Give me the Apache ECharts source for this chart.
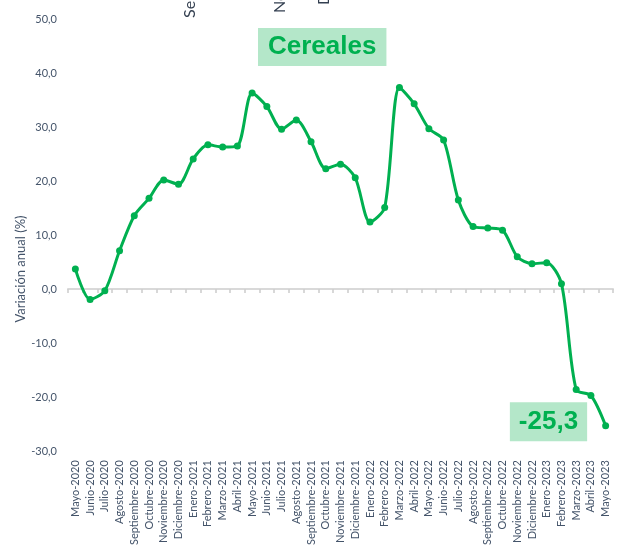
<!DOCTYPE html>
<html>
<head>
<meta charset="utf-8">
<script src="https://cdn.jsdelivr.net/npm/echarts@6/dist/echarts.min.js"></script>
<style>
  html, body { margin: 0; padding: 0; background: #fff; }
  #chart { width: 629px; height: 548px; }
</style>
</head>
<body>
<div id="chart"></div>
<script>
const FONT = 'Lato, "Noto Sans", sans-serif'
const BOLD = '"Liberation Sans", Arial, sans-serif'
const TXT = '#44546a'
const GREEN = '#00b050'
const BOX = '#b4e7c9'

const meses = [
  'Mayo-2020', 'Junio-2020', 'Julio-2020', 'Agosto-2020', 'Septiembre-2020', 'Octubre-2020',
  'Noviembre-2020', 'Diciembre-2020', 'Enero-2021', 'Febrero-2021', 'Marzo-2021', 'Abril-2021',
  'Mayo-2021', 'Junio-2021', 'Julio-2021', 'Agosto-2021', 'Septiembre-2021', 'Octubre-2021',
  'Noviembre-2021', 'Diciembre-2021', 'Enero-2022', 'Febrero-2022', 'Marzo-2022', 'Abril-2022',
  'Mayo-2022', 'Junio-2022', 'Julio-2022', 'Agosto-2022', 'Septiembre-2022', 'Octubre-2022',
  'Noviembre-2022', 'Diciembre-2022', 'Enero-2023', 'Febrero-2023', 'Marzo-2023', 'Abril-2023',
  'Mayo-2023',
]

// variación anual (%) cereales
const cereales = [
  3.7, -1.9, -0.3, 7.1, 13.6, 16.8, 20.2, 19.4, 24.1, 26.7, 26.3, 26.5,
  36.3, 33.8, 29.6, 31.3, 27.3, 22.3, 23.1, 20.6, 12.4, 15.1, 37.3, 34.3,
  29.7, 27.6, 16.5, 11.6, 11.3, 10.9, 6.0, 4.7, 4.9, 1.0, -18.6, -19.7,
  -25.3,
]

const coma = (v) => v.toFixed(1).replace('.', ',')

const chart = echarts.init(document.getElementById('chart'))

const data = cereales.map((v, i) => {
  if (i !== cereales.length - 1) return v
  return {
    value: v,
    label: {
      show: true,
      position: 'left',
      distance: 15,
      offset: [0, -4],
      formatter: (p) => coma(p.value),
      color: GREEN,
      fontFamily: BOLD,
      fontWeight: 'bold',
      fontSize: 26,
      lineHeight: 28,
      backgroundColor: BOX,
      padding: [6, 9, 5, 9],
    },
  }
})

chart.setOption({
  backgroundColor: '#fff',
  animation: false,
  title: {
    text: 'Cereales',
    left: 258,
    top: 28,
    backgroundColor: BOX,
    padding: [5, 10, 5, 10],
    textStyle: {
      color: GREEN,
      fontFamily: BOLD,
      fontWeight: 'bold',
      fontSize: 26,
      lineHeight: 28,
    },
  },
  grid: { left: 68, right: 16, top: 19, bottom: 95 },
  xAxis: [
    {
      type: 'category',
      data: meses,
      position: 'bottom',
      axisLine: { show: false, onZero: false },
      axisTick: { show: false },
      axisLabel: {
        rotate: 90,
        interval: 0,
        margin: 9,
        color: TXT,
        fontFamily: FONT,
        fontSize: 11,
      },
    },
    {
      // línea del cero con marcas entre meses
      type: 'category',
      data: meses,
      position: 'bottom',
      axisLine: { show: true, onZero: true, lineStyle: { color: '#d9d9d9', width: 2 } },
      axisTick: { show: true, interval: 0, length: 4, lineStyle: { color: '#cfcfcf', width: 1.6 } },
      axisLabel: { show: true, interval: 0, fontSize: 1, formatter: () => '' },
    },
  ],
  yAxis: {
    type: 'value',
    min: -30,
    max: 50,
    interval: 10,
    axisLine: { show: false },
    axisTick: { show: false },
    splitLine: { show: false },
    axisLabel: {
      margin: 11,
      color: TXT,
      fontFamily: FONT,
      fontSize: 11,
      formatter: (v) => coma(v),
    },
  },
  graphic: [
    {
      type: 'text',
      x: 21, y: 269,
      rotation: Math.PI / 2,
      style: {
        text: 'Variación anual (%)',
        fill: TXT,
        font: '13px ' + FONT,
        align: 'center',
        verticalAlign: 'middle',
      },
    },
    // restos de rótulos cortados arriba
    {
      type: 'text', x: 190, y: 18, rotation: Math.PI / 2,
      style: { text: 'Septiembre', fill: '#333f50', font: '16px ' + FONT, align: 'left', verticalAlign: 'middle' },
    },
    {
      type: 'text', x: 280, y: 13, rotation: Math.PI / 2,
      style: { text: 'Noviembre', fill: '#333f50', font: '16px ' + FONT, align: 'left', verticalAlign: 'middle' },
    },
    {
      type: 'text', x: 324, y: 5, rotation: Math.PI / 2,
      style: { text: 'Diciembre', fill: '#333f50', font: '16px ' + FONT, align: 'left', verticalAlign: 'middle' },
    },
  ],
  series: [
    {
      type: 'line',
      xAxisIndex: 0,
      data: data,
      smooth: 0.28,
      symbol: 'circle',
      symbolSize: 7,
      lineStyle: { color: GREEN, width: 3 },
      itemStyle: { color: GREEN },
    },
  ],
})
</script>
</body>
</html>
